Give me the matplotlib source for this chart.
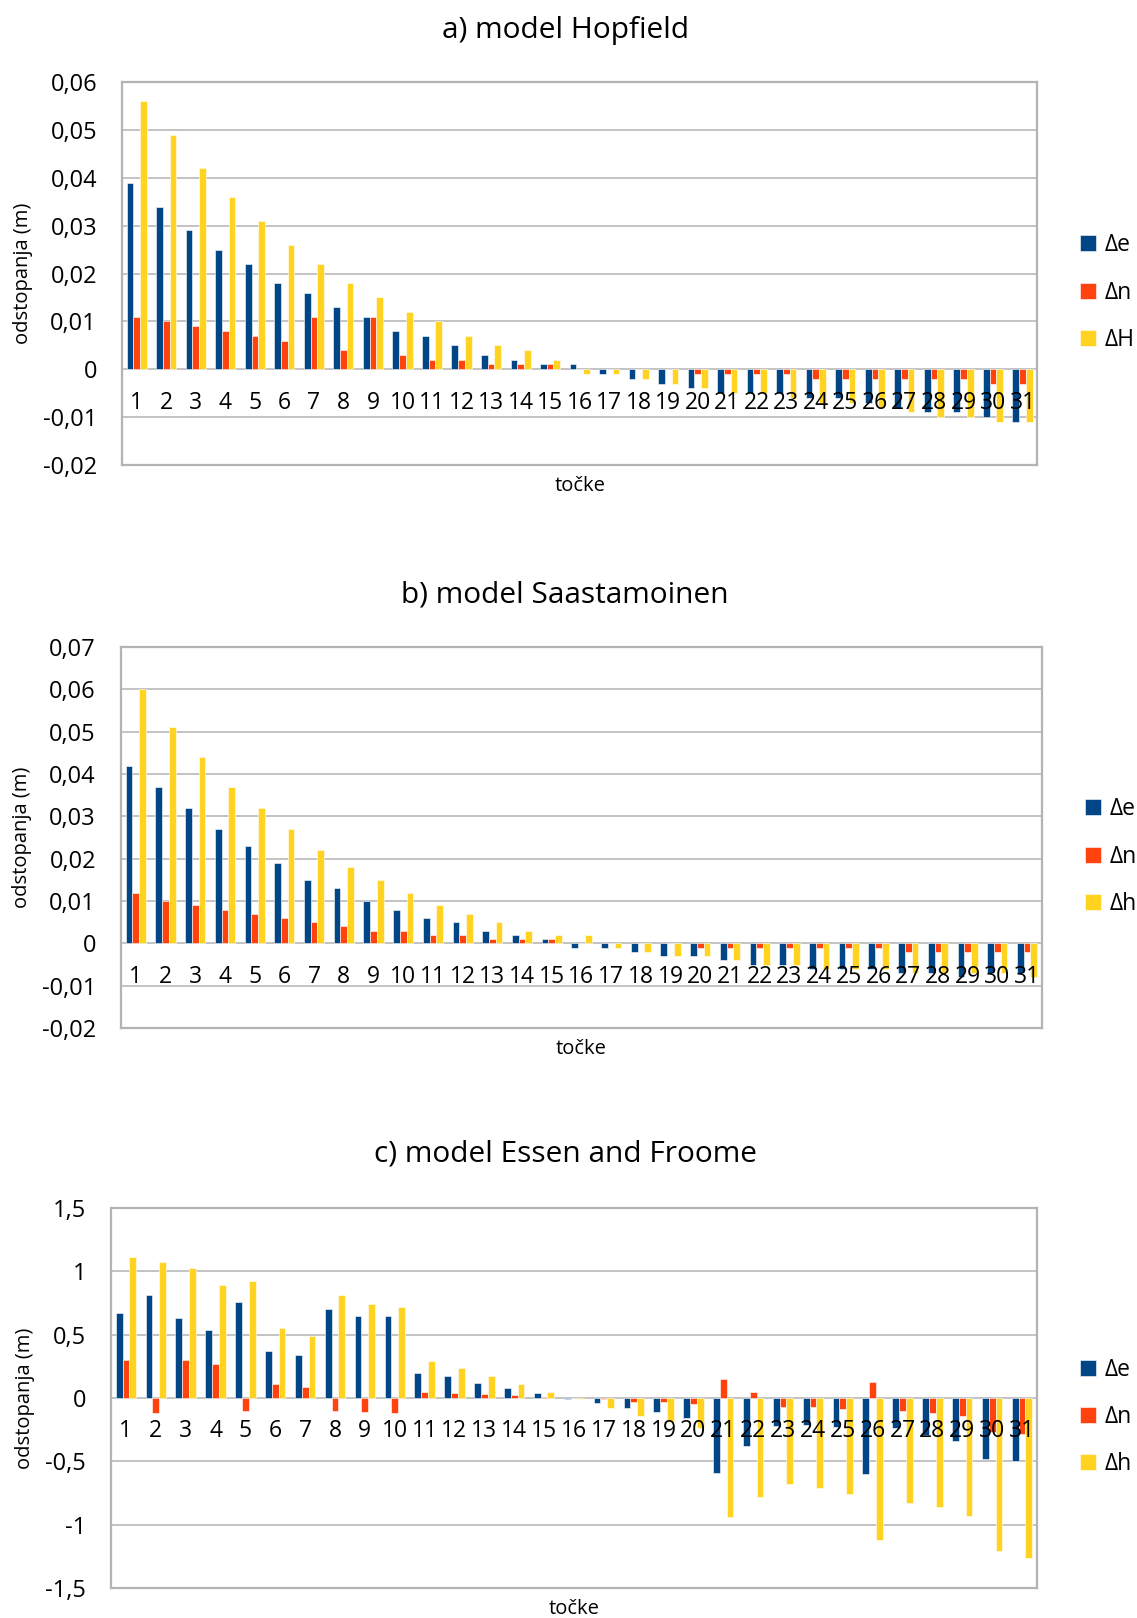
import numpy as np
import matplotlib
matplotlib.use('Agg')
import matplotlib.pyplot as plt
from matplotlib.ticker import FuncFormatter, MultipleLocator
from matplotlib.transforms import offset_copy

plt.rcParams['font.family'] = ['Open Sans', 'DejaVu Sans']

points = [str(i) for i in range(1, 32)]

# a) model Hopfield
hop_de = [0.039, 0.034, 0.029, 0.025, 0.022, 0.018, 0.016, 0.013, 0.011, 0.008,
          0.007, 0.005, 0.003, 0.002, 0.001, 0.001, -0.001, -0.002, -0.003, -0.004,
          -0.005, -0.005, -0.005, -0.006, -0.006, -0.007, -0.008, -0.009, -0.009, -0.010, -0.011]
hop_dn = [0.011, 0.010, 0.009, 0.008, 0.007, 0.006, 0.011, 0.004, 0.011, 0.003,
          0.002, 0.002, 0.001, 0.001, 0.001, 0.0, 0.0, 0.0, 0.0, -0.001,
          -0.001, -0.001, -0.001, -0.002, -0.002, -0.002, -0.002, -0.002, -0.002, -0.003, -0.003]
hop_dH = [0.056, 0.049, 0.042, 0.036, 0.031, 0.026, 0.022, 0.018, 0.015, 0.012,
          0.010, 0.007, 0.005, 0.004, 0.002, -0.001, -0.001, -0.002, -0.003, -0.004,
          -0.005, -0.005, -0.006, -0.007, -0.007, -0.008, -0.009, -0.010, -0.010, -0.011, -0.011]

# b) model Saastamoinen
saa_de = [0.042, 0.037, 0.032, 0.027, 0.023, 0.019, 0.015, 0.013, 0.010, 0.008,
          0.006, 0.005, 0.003, 0.002, 0.001, -0.001, -0.001, -0.002, -0.003, -0.003,
          -0.004, -0.005, -0.005, -0.006, -0.006, -0.006, -0.007, -0.007, -0.008, -0.007, -0.007]
saa_dn = [0.012, 0.010, 0.009, 0.008, 0.007, 0.006, 0.005, 0.004, 0.003, 0.003,
          0.002, 0.002, 0.001, 0.001, 0.001, 0.0, 0.0, 0.0, 0.0, -0.001,
          -0.001, -0.001, -0.001, -0.001, -0.001, -0.001, -0.002, -0.002, -0.002, -0.002, -0.002]
saa_dh = [0.060, 0.051, 0.044, 0.037, 0.032, 0.027, 0.022, 0.018, 0.015, 0.012,
          0.009, 0.007, 0.005, 0.003, 0.002, 0.002, -0.001, -0.002, -0.003, -0.003,
          -0.004, -0.005, -0.005, -0.006, -0.006, -0.006, -0.007, -0.007, -0.007, -0.007, -0.008]

# c) model Essen and Froome
ess_de = [0.67, 0.81, 0.63, 0.54, 0.76, 0.37, 0.34, 0.70, 0.65, 0.65,
          0.20, 0.17, 0.12, 0.08, 0.04, -0.005, -0.04, -0.08, -0.11, -0.16,
          -0.59, -0.38, -0.22, -0.21, -0.23, -0.60, -0.24, -0.29, -0.34, -0.48, -0.50]
ess_dn = [0.30, -0.12, 0.30, 0.27, -0.10, 0.11, 0.09, -0.10, -0.11, -0.12,
          0.05, 0.04, 0.03, 0.02, 0.01, 0.0, -0.01, -0.03, -0.03, -0.05,
          0.15, 0.05, -0.07, -0.07, -0.09, 0.13, -0.10, -0.12, -0.14, -0.27, -0.28]
ess_dh = [1.11, 1.07, 1.03, 0.89, 0.92, 0.55, 0.49, 0.81, 0.74, 0.72,
          0.29, 0.24, 0.17, 0.11, 0.05, -0.01, -0.08, -0.14, -0.19, -0.24,
          -0.94, -0.78, -0.68, -0.71, -0.76, -1.12, -0.83, -0.86, -0.93, -1.21, -1.26]

colors = ['#004586', '#ff420e', '#ffd320']
grid_c = '#b3b3b3'

panels = [
    dict(title='a) model Hopfield', series=[hop_de, hop_dn, hop_dH], names=['Δe', 'Δn', 'ΔH'],
         ylim=(-0.02, 0.06), step=0.01, rect=[0.1073, 0.7126, 0.805, 0.2367], title_y=0.981),
    dict(title='b) model Saastamoinen', series=[saa_de, saa_dn, saa_dh], names=['Δe', 'Δn', 'Δh'],
         ylim=(-0.02, 0.07), step=0.01, rect=[0.1064, 0.3646, 0.81, 0.2355], title_y=0.632),
    dict(title='c) model Essen and Froome', series=[ess_de, ess_dn, ess_dh], names=['Δe', 'Δn', 'Δh'],
         ylim=(-1.5, 1.5), step=0.5, rect=[0.0976, 0.0185, 0.8144, 0.2349], title_y=0.2865),
]


def comma_fmt(v, pos):
    return f'{round(v, 4):g}'.replace('.', ',')


fig = plt.figure(figsize=(11.37, 16.18), dpi=100)
x = np.arange(len(points))
w = 0.227

for p in panels:
    ax = fig.add_axes(p['rect'])
    handles = []
    for k, (vals, c) in enumerate(zip(p['series'], colors)):
        h = ax.bar(x + (k - 1) * w, vals, width=w, color=c, edgecolor='white',
                   linewidth=0.4, zorder=3)
        handles.append(h)
    ax.set_xlim(-0.5, len(points) - 0.5)
    ax.set_ylim(*p['ylim'])
    ax.yaxis.set_major_locator(MultipleLocator(p['step']))
    ax.yaxis.set_major_formatter(FuncFormatter(comma_fmt))
    ax.grid(axis='y', color=grid_c, linewidth=1.1, zorder=0)
    ax.set_axisbelow(True)
    for s in ax.spines.values():
        s.set_color(grid_c)
        s.set_linewidth(1.6)
    ax.set_xticks([])
    ax.tick_params(axis='y', length=0, pad=18, labelsize=17)
    # point numbers sit just under the zero line
    trans = offset_copy(ax.transData, fig=fig, x=0, y=-24, units='points')
    for xi, lab in zip(x, points):
        ax.text(xi, 0, lab, transform=trans, ha='center', va='center',
                fontsize=16.5, zorder=5)
    ax.set_xlabel('točke', fontsize=14.5, labelpad=8)
    ax.set_ylabel('odstopanja (m)', fontsize=14.5, labelpad=7)
    ax.legend(handles, p['names'], loc='center left', bbox_to_anchor=(1.037, 0.45),
              frameon=False, fontsize=16.5, handlelength=0.7, handleheight=0.7,
              handletextpad=0.35, labelspacing=1.02, borderaxespad=0)
    fig.text(0.497, p['title_y'], p['title'], ha='center', va='center', fontsize=21.5)

fig.savefig('out.png', dpi=100)
